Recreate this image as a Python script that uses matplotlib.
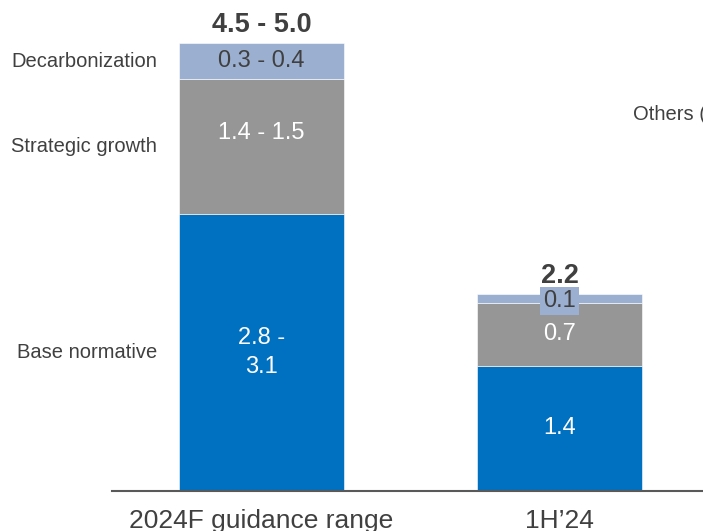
import matplotlib.pyplot as plt
import numpy as np

plt.rcParams['font.family'] = ['Liberation Sans', 'DejaVu Sans']

# data
CATEGORIES = ["2024F guidance range", "1H\u201924"]
SEGMENTS = ["Base normative", "Strategic growth", "Decarbonization"]
VALUES = [
    [3.1, 1.4],   # base normative
    [1.5, 0.7],   # strategic growth
    [0.4, 0.1],   # decarbonization
]
SEG_LABELS = [
    ["2.8 -\n3.1", "1.4"],
    ["1.4 - 1.5", "0.7"],
    ["0.3 - 0.4", "0.1"],
]
TOTAL_LABELS = ["4.5 - 5.0", "2.2"]
COLORS = ["#0070C0", "#969696", "#9BB0D0"]
TEXT_COLORS = ["white", "white", "#404040"]
DARK = "#404040"

W, H = 703, 531
fig = plt.figure(figsize=(W / 100, H / 100), dpi=100)
# axes: left at px 112, baseline at px 491, ~89.5 px per unit
ppu = 89.5
ax = fig.add_axes([112 / W, (H - 491) / H, (W - 112) / W, 480 / H])
ax.set_ylim(0, 480 / ppu)
ax.set_xlim(-0.5017, 1.4815)

x = np.arange(len(CATEGORIES))
bw = 0.554
bottom = np.zeros(len(CATEGORIES))
for i, vals in enumerate(VALUES):
    vals = np.array(vals)
    ax.bar(x, vals, bw, bottom=bottom, color=COLORS[i], edgecolor="white", linewidth=0.4)
    for j in range(len(x)):
        yc = bottom[j] + vals[j] / 2
        if i == 1 and j == 0:
            yc = bottom[j] + vals[j] * 0.6
        if i == 2 and j == 1:
            ax.text(x[j], yc - 0.03, SEG_LABELS[i][j], ha="center", va="center",
                    fontsize=17, color=TEXT_COLORS[i],
                    bbox=dict(boxstyle="square,pad=0.12", fc=COLORS[i], ec="none"))
        else:
            ax.text(x[j], yc, SEG_LABELS[i][j], ha="center", va="center",
                    fontsize=17, color=TEXT_COLORS[i], linespacing=1.4)
    # side labels next to first bar
    yc = bottom[0] + vals[0] / 2
    ax.text(-0.5017 + 45 / 298, yc, SEGMENTS[i], ha="right", va="center",
            fontsize=14.5, color=DARK)
    bottom = bottom + vals

for j in range(len(x)):
    ax.text(x[j], bottom[j] + 0.06, TOTAL_LABELS[j], ha="center", va="bottom",
            fontsize=19.5, fontweight="bold", color=DARK)

# label of a further bar that lies beyond the right edge of the picture
fig.text(633 / W, 1 - 115 / H, "Others (", ha="left", va="center",
         fontsize=14.5, color=DARK)

ax.set_xticks(x, CATEGORIES)
ax.tick_params(axis="x", length=0, pad=13, labelsize=19, labelcolor=DARK)
ax.set_yticks([])
for s in ["top", "right", "left"]:
    ax.spines[s].set_visible(False)
ax.spines["bottom"].set_color("#595959")
ax.spines["bottom"].set_linewidth(1.5)
ax.patch.set_alpha(0)

fig.savefig("out.png", dpi=100)
